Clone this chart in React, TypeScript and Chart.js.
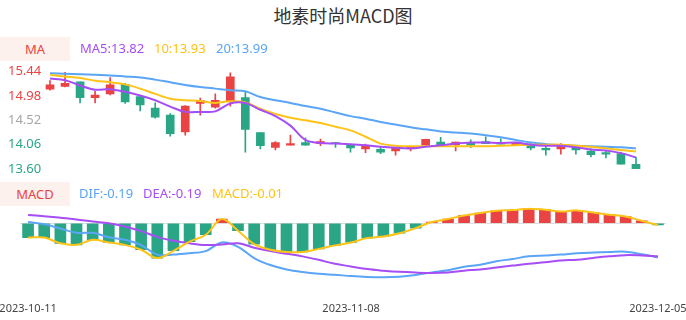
import React, { useEffect, useRef } from "react";
import { Chart, registerables } from "chart.js";

Chart.register(...registerables);

const DATES = [
  "2023-10-11", "2023-10-12", "2023-10-13", "2023-10-16", "2023-10-17", "2023-10-18", "2023-10-19", "2023-10-20",
  "2023-10-23", "2023-10-24", "2023-10-25", "2023-10-26", "2023-10-27", "2023-10-30", "2023-10-31",
  "2023-11-01", "2023-11-02", "2023-11-03", "2023-11-06", "2023-11-07", "2023-11-08", "2023-11-09", "2023-11-10",
  "2023-11-13", "2023-11-14", "2023-11-15", "2023-11-16", "2023-11-17", "2023-11-20", "2023-11-21", "2023-11-22",
  "2023-11-23", "2023-11-24", "2023-11-27", "2023-11-28", "2023-11-29", "2023-11-30",
  "2023-12-01", "2023-12-04", "2023-12-05",
];

const OPEN = [
  15.11, 15.16, 15.25, 14.95, 15.02, 15.2, 14.97, 14.75, 14.62, 14.3,
  14.84, 14.77, 14.885, 14.95, 14.29, 14.01, 14.05, 14.1, 14.08, 14.09,
  14.05, 13.98, 13.97, 13.94, 14.0, 14.05, 14.11, 14.06, 14.1, 14.12,
  14.1, 14.06, 14.05, 13.99, 13.98, 14.01, 13.94, 13.91, 13.89, 13.69,
];
const CLOSE = [
  15.19, 15.22, 14.95, 15.0, 15.19, 14.87, 14.81, 14.58, 14.27, 14.79,
  14.9, 14.9, 15.345, 14.35, 14.04, 14.1, 14.08, 14.05, 14.12, 14.08,
  14.0, 14.03, 13.92, 13.99, 14.01, 14.16, 14.05, 14.11, 14.05, 14.08,
  14.07, 14.09, 14.0, 13.96, 14.03, 13.96, 13.87, 13.88, 13.69, 13.58,
];
const HIGH = [
  15.27, 15.43, 15.25, 15.07, 15.33, 15.22, 14.97, 14.85, 14.65, 14.8,
  14.94, 15.02, 15.42, 15.07, 14.29, 14.12, 14.24, 14.19, 14.165, 14.1,
  14.05, 14.07, 14.01, 14.0, 14.03, 14.165, 14.2, 14.11, 14.15, 14.21,
  14.17, 14.1, 14.1, 14.05, 14.08, 14.01, 13.98, 13.95, 13.92, 13.82,
];
const LOW = [
  15.09, 15.15, 14.85, 14.85, 15.0, 14.84, 14.7, 14.56, 14.22, 14.24,
  14.62, 14.75, 14.79, 13.92, 13.98, 13.96, 14.05, 14.05, 14.04, 14.01,
  13.92, 13.91, 13.89, 13.86, 13.94, 14.05, 14.05, 13.94, 14.01, 14.08,
  14.07, 14.05, 13.96, 13.86, 13.88, 13.88, 13.83, 13.81, 13.69, 13.58,
];

const MA5 = [
  15.31, 15.28, 15.18, 15.1, 15.11, 15.06, 14.99, 14.9, 14.78, 14.68,
  14.68, 14.69, 14.84, 14.85, 14.72, 14.6, 14.42, 14.15, 14.09, 14.08,
  14.07, 14.05, 14.02, 14.0, 13.99, 14.02, 14.05, 14.08, 14.1, 14.1,
  14.09, 14.1, 14.06, 14.04, 14.04, 14.01, 13.97, 13.95, 13.9, 13.82,
];
const MA10 = [
  15.38, 15.35, 15.32, 15.27, 15.24, 15.2, 15.12, 15.02, 14.93, 14.9,
  14.885, 14.85, 14.88, 14.86, 14.74, 14.64, 14.57, 14.52, 14.47, 14.4,
  14.33, 14.21, 14.08, 14.04, 14.03, 14.03, 14.03, 14.03, 14.03, 14.03,
  14.04, 14.05, 14.06, 14.06, 14.06, 14.04, 14.02, 13.99, 13.96, 13.93,
];
const MA20 = [
  15.41, 15.4, 15.39, 15.38, 15.37, 15.35, 15.33, 15.29, 15.24, 15.19,
  15.15, 15.12, 15.09, 15.07, 14.96, 14.9, 14.85, 14.79, 14.74, 14.67,
  14.6, 14.55, 14.49, 14.44, 14.39, 14.35, 14.31, 14.29, 14.27, 14.24,
  14.2, 14.15, 14.1, 14.07, 14.05, 14.04, 14.03, 14.02, 14.01, 13.99,
];

const DIF = [
  0.007, -0.005, -0.03, -0.055, -0.055, -0.08, -0.095, -0.125, -0.18, -0.18,
  -0.172, -0.16, -0.11, -0.135, -0.2, -0.24, -0.265, -0.28, -0.29, -0.296,
  -0.303, -0.308, -0.31, -0.307, -0.297, -0.282, -0.27, -0.25, -0.238, -0.218,
  -0.205, -0.19, -0.185, -0.18, -0.172, -0.168, -0.165, -0.163, -0.178, -0.196,
];
const DEA = [
  0.048, 0.04, 0.032, 0.022, 0.01, 0.0, -0.018, -0.045, -0.078, -0.1,
  -0.115, -0.125, -0.122, -0.115, -0.14, -0.16, -0.175, -0.19, -0.21, -0.233,
  -0.248, -0.263, -0.272, -0.279, -0.283, -0.285, -0.282, -0.272, -0.265, -0.254,
  -0.243, -0.232, -0.224, -0.214, -0.209, -0.199, -0.19, -0.183, -0.185, -0.19,
];
const HIST = [
  -0.082, -0.082, -0.115, -0.124, -0.095, -0.11, -0.124, -0.152, -0.2, -0.158,
  -0.105, -0.066, 0.024, -0.043, -0.12, -0.152, -0.165, -0.165, -0.147, -0.127,
  -0.11, -0.085, -0.076, -0.057, -0.028, 0.007, 0.024, 0.045, 0.059, 0.072,
  0.076, 0.084, 0.078, 0.068, 0.074, 0.062, 0.049, 0.039, 0.014, -0.01,
];

const PRICE_TICKS = [13.6, 14.06, 14.52, 14.98, 15.44];
const DATE_TICK_INDEX = [0, 20, 39];

const RED = "#ea4343";
const GREEN = "#2aa687";
const PURPLE = "#a64df5";
const GOLD = "#fdc317";
const BLUE = "#5aa5f5";
const GRAY = "#a6a6a6";

const FONT = "'Noto Sans', 'Noto Sans CJK SC', sans-serif";

export default function App() {
  const topRef = useRef<HTMLCanvasElement | null>(null);
  const botRef = useRef<HTMLCanvasElement | null>(null);

  useEffect(() => {
    const candleColors = DATES.map((_, i) => (CLOSE[i] >= OPEN[i] ? RED : GREEN));
    const lineDs = (data: number[], color: string) => ({
      type: "line" as const,
      data,
      borderColor: color,
      backgroundColor: color,
      borderWidth: 2,
      pointRadius: 0,
      tension: 0.35,
      fill: false,
      order: 0,
    });

    const top = new Chart(topRef.current as HTMLCanvasElement, {
      type: "bar",
      data: {
        labels: DATES,
        datasets: [
          lineDs(MA5, PURPLE) as any,
          lineDs(MA10, GOLD) as any,
          lineDs(MA20, BLUE) as any,
          {
            type: "bar",
            data: DATES.map((_, i) => [OPEN[i], CLOSE[i]]),
            backgroundColor: candleColors,
            barThickness: 8,
            grouped: false,
            minBarLength: 1,
            order: 1,
          } as any,
          {
            type: "bar",
            data: DATES.map((_, i) => [LOW[i], HIGH[i]]),
            backgroundColor: candleColors,
            barThickness: 1,
            grouped: false,
            order: 2,
          } as any,
        ],
      },
      options: {
        responsive: false,
        animation: false,
        devicePixelRatio: 1,
        layout: { padding: { top: 71.7, bottom: 16, left: 8, right: 42.5 } },
        plugins: { legend: { display: false }, tooltip: { enabled: false } },
        scales: {
          x: { display: false, offset: true, grid: { display: false } },
          y: {
            min: 13.6,
            max: 15.44,
            afterBuildTicks: (s: any) => {
              s.ticks = PRICE_TICKS.map((v) => ({ value: v }));
            },
            afterFit: (s: any) => {
              s.width = 34.5;
            },
            grid: { display: false, drawTicks: false },
            border: { display: false },
            ticks: {
              crossAlign: "far",
              font: { size: 13, family: FONT },
              color: (ctx: any) => {
                const v = ctx.tick ? ctx.tick.value : 0;
                if (v > 14.6) return RED;
                if (v < 14.4) return GREEN;
                return GRAY;
              },
              callback: (v: any) => Number(v).toFixed(2),
            },
          },
        },
      } as any,
    });

    const bot = new Chart(botRef.current as HTMLCanvasElement, {
      type: "bar",
      data: {
        labels: DATES,
        datasets: [
          lineDs(HIST, GOLD) as any,
          lineDs(DEA, PURPLE) as any,
          lineDs(DIF, BLUE) as any,
          {
            type: "bar",
            data: HIST,
            backgroundColor: HIST.map((v) => (v >= 0 ? RED : GREEN)),
            barThickness: 11,
            order: 1,
          } as any,
        ],
      },
      options: {
        responsive: false,
        animation: false,
        devicePixelRatio: 1,
        layout: { padding: { top: 27.6, bottom: 0, left: 20, right: 20 } },
        plugins: { legend: { display: false }, tooltip: { enabled: false } },
        scales: {
          x: {
            offset: true,
            grid: { display: false, drawTicks: false },
            border: { display: false },
            afterFit: (s: any) => {
              s.height = 41;
              s.paddingLeft = 0;
              s.paddingRight = 0;
            },
            ticks: {
              autoSkip: false,
              maxRotation: 0,
              minRotation: 0,
              padding: 23,
              color: "#444",
              font: { size: 11, family: FONT },
              callback: (_v: any, i: number) => (DATE_TICK_INDEX.includes(i) ? DATES[i] : ""),
            },
          },
          y: {
            min: -0.32,
            max: 0.09,
            afterBuildTicks: (s: any) => {
              s.ticks = [{ value: 0 }];
            },
            afterFit: (s: any) => {
              s.width = 0;
            },
            ticks: { display: false },
            border: { display: false },
            grid: { color: "#dcdcdc", drawTicks: false },
          },
        },
      } as any,
    });

    return () => {
      top.destroy();
      bot.destroy();
    };
  }, []);

  const txt = (left: number, top: number, color: string, s: string) => (
    <span
      style={{
        position: "absolute",
        left,
        top,
        height: 24,
        lineHeight: "24px",
        fontSize: 13,
        color,
        whiteSpace: "nowrap",
      }}
    >
      {s}
    </span>
  );

  const badge = (top: number, s: string) => (
    <div
      style={{
        position: "absolute",
        left: 0,
        top,
        width: 70,
        height: 24,
        lineHeight: "24px",
        background: "#fdf1ed",
        color: RED,
        fontSize: 13,
        textAlign: "center",
      }}
    >
      {s}
    </div>
  );

  return (
    <div
      style={{
        position: "fixed",
        left: 0,
        top: 0,
        width: 686,
        height: 320,
        background: "#fff",
        fontFamily: FONT,
        overflow: "hidden",
      }}
    >
      <div
        style={{
          position: "absolute",
          left: 0,
          top: 3,
          width: 686,
          textAlign: "center",
          fontSize: 18,
          lineHeight: "24px",
          color: "#333",
          fontFamily: "'Noto Sans CJK SC', 'Noto Sans', sans-serif",
        }}
      >
        地素时尚MACD图
      </div>
      <canvas ref={topRef} width={686} height={185} style={{ position: "absolute", left: 0, top: 0, width: 686, height: 185 }} />
      <canvas ref={botRef} width={686} height={140} style={{ position: "absolute", left: 0, top: 180, width: 686, height: 140 }} />
      {badge(37, "MA")}
      {txt(80, 36, PURPLE, "MA5:13.82")}
      {txt(154, 36, GOLD, "10:13.93")}
      {txt(216, 36, BLUE, "20:13.99")}
      {badge(182, "MACD")}
      {txt(79, 181, BLUE, "DIF:-0.19")}
      {txt(143, 181, PURPLE, "DEA:-0.19")}
      {txt(212, 181, GOLD, "MACD:-0.01")}
    </div>
  );
}
